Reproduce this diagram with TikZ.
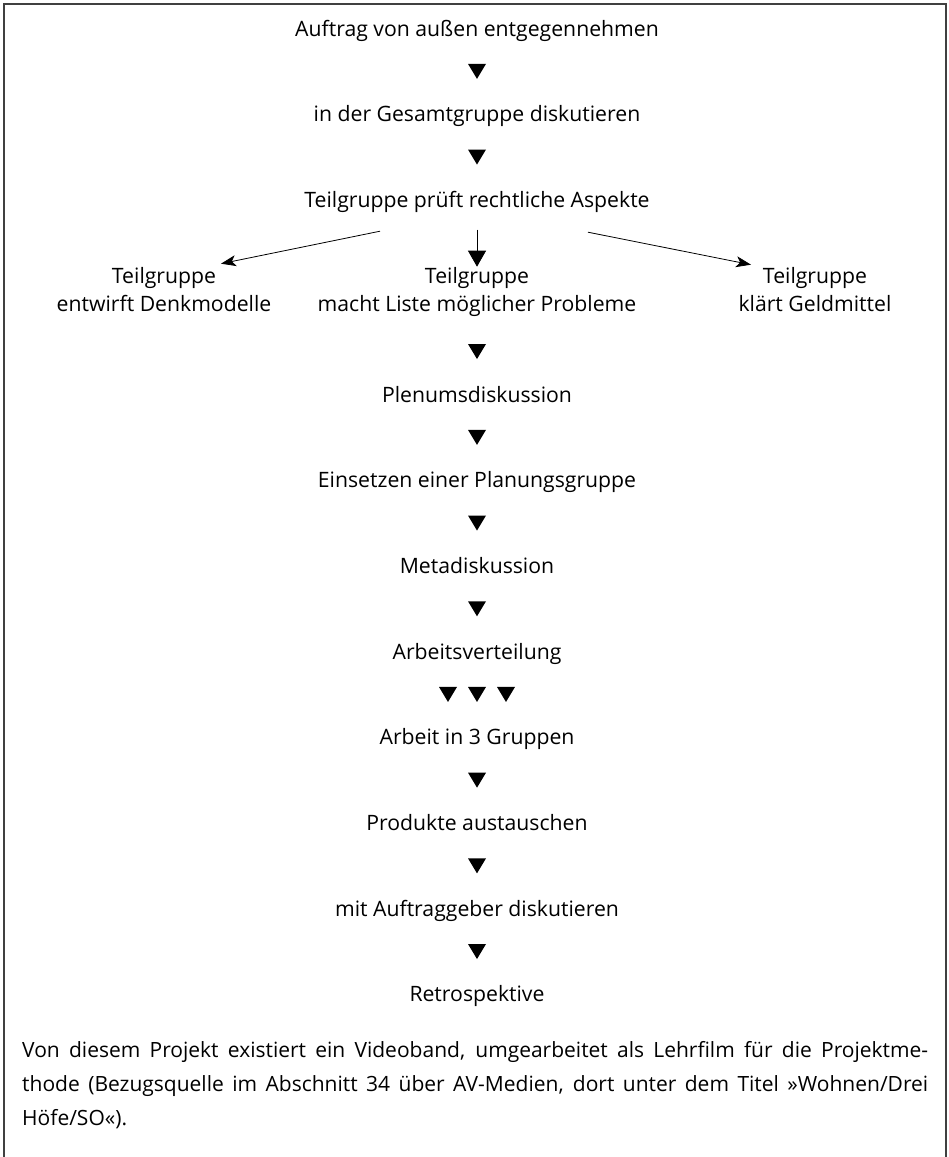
\documentclass[tikz,border=0pt]{standalone}
\usepackage{fontspec}
\setmainfont{Open Sans}
\usetikzlibrary{arrows.meta, decorations.markings}

\begin{document}
\begin{tikzpicture}[x=1pt, y=-1pt,
    every node/.style={font=\fontsize{21.2}{28}\selectfont},
    stepbox/.style={inner sep=0pt, text height=15pt, text depth=0pt, anchor=base},
    pairbox/.style={inner sep=0pt, align=center, anchor=base},
    flow/.style={decoration={markings, mark=at position 0.5 with {\fill (-7.5,-9) -- (7.5,0) -- (-7.5,9) -- cycle;}}, postaction={decorate}},
    flowthree/.style={decoration={markings, mark=at position 0.5 with {
        \foreach \s in {-29,0,29} {\fill (-7.5,\s-9) -- (7.5,\s) -- (-7.5,\s+9) -- cycle;}}}, postaction={decorate}},
    mainarrow/.style={line width=0.8pt, -{Triangle[width=18pt,length=16pt]}},
    sidearrow/.style={line width=0.8pt, -{Stealth[width=11pt,length=15pt,inset=4pt]}}]
    \useasboundingbox (0,0) rectangle (949,1157);
    \draw[line width=1.2pt, black!75] (4,1157) -- (4,4) -- (946,4) -- (946,1157);

    % Define nodes
    \node[stepbox] (auftrag) at (477,36) {Auftrag von außen entgegennehmen};
    \node[stepbox] (gesamt) at (477,121.7) {in der Gesamtgruppe diskutieren};
    \node[stepbox] (recht) at (477,207.4) {Teilgruppe prüft rechtliche Aspekte};
    \node[pairbox] (denk) at (164,311) {Teilgruppe\\entwirft Denkmodelle};
    \node[pairbox] (liste) at (477,311) {Teilgruppe\\macht Liste möglicher Probleme};
    \node[pairbox] (geld) at (815,311) {Teilgruppe\\klärt Geldmittel};
    \node[stepbox] (plenum) at (477,402) {Plenumsdiskussion};
    \node[stepbox] (planung) at (477,487.7) {Einsetzen einer Planungsgruppe};
    \node[stepbox] (meta) at (477,573.4) {Metadiskussion};
    \node[stepbox] (verteil) at (477,659.1) {Arbeitsverteilung};
    \node[stepbox] (gruppen) at (477,744.8) {Arbeit in 3 Gruppen};
    \node[stepbox] (produkte) at (477,830.5) {Produkte austauschen};
    \node[stepbox] (geber) at (477,916.2) {mit Auftraggeber diskutieren};
    \node[stepbox] (retro) at (477,1001.9) {Retrospektive};
    \node[inner sep=0pt, text width=906pt, align=justify, anchor=base west,
        font=\fontsize{21}{34}\selectfont] (note) at (22,1057)
        {\tolerance=9999 \hyphenpenalty=10000 Von diesem Projekt existiert ein Videoband, umgearbeitet als Lehrfilm für die Projektme-\linebreak thode (Bezugsquelle im Abschnitt 34 über AV-Medien, dort unter dem Titel »Wohnen/Drei\linebreak Höfe/SO«).};

    % Draw edges
    \path[flow] (auftrag) -- (gesamt);
    \path[flow] (gesamt) -- (recht);
    \draw[sidearrow] ([xshift=-97pt,yshift=-23.6pt]recht.south) -- ([xshift=57pt,yshift=3pt]denk.north);
    \draw[mainarrow] ([yshift=-22pt]recht.south) -- (liste.north);
    \draw[sidearrow] ([xshift=111pt,yshift=-24.6pt]recht.south) -- ([xshift=-64pt,yshift=2pt]geld.north);
    \path[flow] (liste) -- (plenum);
    \path[flow] (plenum) -- (planung);
    \path[flow] (planung) -- (meta);
    \path[flow] (meta) -- (verteil);
    \path[flowthree] (verteil) -- (gruppen);
    \path[flow] (gruppen) -- (produkte);
    \path[flow] (produkte) -- (geber);
    \path[flow] (geber) -- (retro);
\end{tikzpicture}
\end{document}
